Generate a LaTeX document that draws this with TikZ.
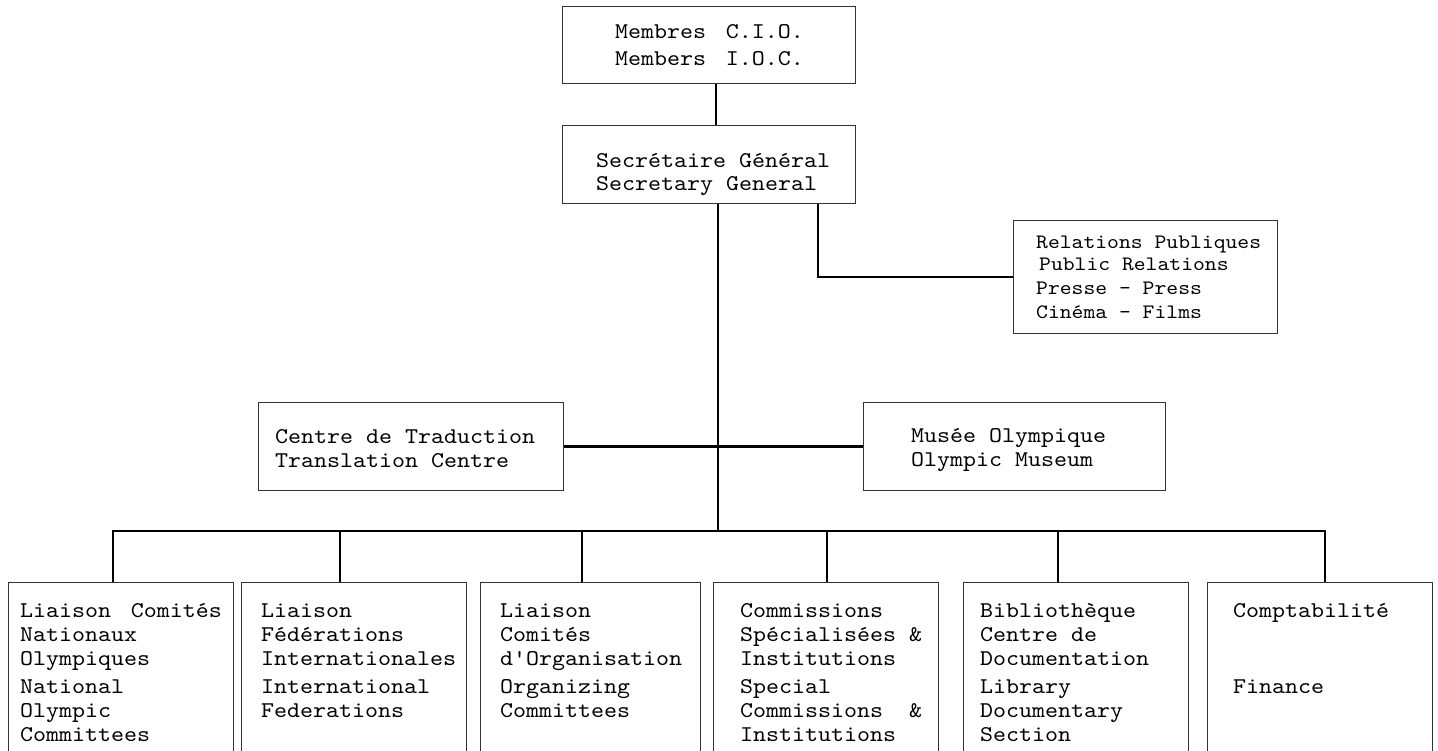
\documentclass[tikz,border=0pt]{standalone}
\usepackage{fontspec}
\newfontfamily\monofam{lmmono10-regular.otf}[FakeStretch=1.1]
\newcommand\firstln{\rule{0pt}{18pt}}
\begin{document}
\begin{tikzpicture}[x=1pt,y=-1pt,
  box/.style={draw=black!80, line width=1.4pt, inner sep=0pt, anchor=north west},
  conn/.style={draw=black, line width=2.5pt},
  txt/.style={anchor=north west, inner sep=0pt, align=left, font=\monofam\fontsize{22.5}{24}\selectfont},
  prtxt/.style={anchor=north west, inner sep=0pt, align=left, font=\monofam\fontsize{20.5}{22}\selectfont}]
\useasboundingbox (0,0) rectangle (1438,751);
\clip (0,0) rectangle (1438,751);
% boxes
\node[box, minimum width=293pt, minimum height=77pt] (cio) at (562,6) {};
\node[box, minimum width=293pt, minimum height=78pt] (sg) at (562,125) {};
\node[box, minimum width=264pt, minimum height=113pt] (pr) at (1013,220) {};
\node[box, minimum width=305pt, minimum height=88pt] (tc) at (258,402) {};
\node[box, minimum width=302pt, minimum height=88pt] (mus) at (863,402) {};
\node[box, minimum width=225pt, minimum height=220pt] (b1) at (8,582) {};
\node[box, minimum width=225pt, minimum height=220pt] (b2) at (241,582) {};
\node[box, minimum width=220pt, minimum height=220pt] (b3) at (480,582) {};
\node[box, minimum width=225pt, minimum height=220pt] (b4) at (713,582) {};
\node[box, minimum width=225pt, minimum height=220pt] (b5) at (963,582) {};
\node[box, minimum width=225pt, minimum height=220pt] (b6) at (1207,582) {};
% texts
\node[txt, font=\monofam\fontsize{22.5}{27}\selectfont] (tcio) at (615,20) {\firstln Membres\hspace{0.3em} C.I.O.\\Members\hspace{0.3em} I.O.C.};
\node[txt, font=\monofam\fontsize{22.5}{23}\selectfont] (tsg) at (596,149) {\firstln Secrétaire Général\\Secretary General};
\node[prtxt] (tpr) at (1036,230) {\firstln Relations Publiques\\\hspace{3pt}Public Relations\\[2pt]Presse - Press\\[2pt]Cinéma - Films};
\node[txt] (ttc) at (275,425) {\firstln Centre de Traduction\\Translation Centre};
\node[txt] (tmus) at (911,424) {\firstln Musée Olympique\\Olympic Museum};
\node[txt] (t1) at (20,599) {\firstln Liaison\hspace{0.3em} Comités\\Nationaux\\Olympiques\\[4pt]National\\Olympic\\Committees};
\node[txt] (t2) at (261,599) {\firstln Liaison\\Fédérations\\Internationales\\[4pt]International\\Federations};
\node[txt] (t3) at (500,599) {\firstln Liaison\\Comités\\d'Organisation\\[4pt]Organizing\\Committees};
\node[txt] (t4) at (740,599) {\firstln Commissions\\Spécialisées \&\\Institutions\\[4pt]Special\\Commissions~~\&\\Institutions};
\node[txt] (t5) at (980,599) {\firstln Bibliothèque\\Centre de\\Documentation\\[4pt]Library\\Documentary\\Section};
\node[txt] (t6) at (1233,599) {\firstln Comptabilité};
\node[txt] (t6b) at (1233,675) {\firstln Finance};
% connector coordinates
\coordinate (v1) at (716,0);
\coordinate (vc) at (718,0);
\coordinate (v2) at (818,0);
\coordinate (bus) at (0,531);
\coordinate (d1) at (113,0);
\coordinate (d2) at (340,0);
\coordinate (d3) at (582,0);
\coordinate (d4) at (827,0);
\coordinate (d5) at (1058,0);
\coordinate (d6) at (1325,0);
% connectors
\draw[conn] (cio.south -| v1) -- (sg.north -| v1);
\draw[conn] (sg.south -| vc) -- (bus -| vc);
\draw[conn] (sg.south -| v2) |- (pr.west);
\draw[conn] (tc.east) -- (mus.west);
\draw[conn] (b1.north -| d1) |- (bus -| d6) -- (b6.north -| d6);
\draw[conn] (bus -| d2) -- (b2.north -| d2);
\draw[conn] (bus -| d3) -- (b3.north -| d3);
\draw[conn] (bus -| d4) -- (b4.north -| d4);
\draw[conn] (bus -| d5) -- (b5.north -| d5);
\end{tikzpicture}
\end{document}
